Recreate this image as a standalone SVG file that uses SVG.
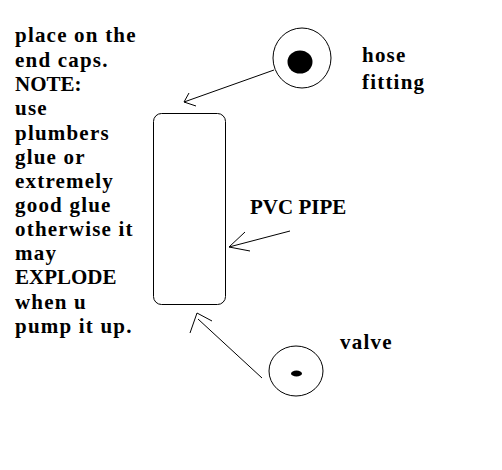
<svg xmlns="http://www.w3.org/2000/svg" width="502" height="470" viewBox="0 0 502 470">
<style>
.t{font-family:"Liberation Serif","Times New Roman",serif;font-weight:bold;font-size:21px;fill:#000;letter-spacing:1.2px}
.c{letter-spacing:0}
.l{fill:none;stroke:#000;stroke-width:1}
</style>
<rect width="502" height="470" fill="#fff"/>
<g id="note">
<text class="t" x="15" y="42">place on the</text>
<text class="t" x="15" y="67">end caps.</text>
<text class="t c" x="15" y="91">NOTE:</text>
<text class="t" x="15" y="115">use</text>
<text class="t" x="15" y="140">plumbers</text>
<text class="t" x="15" y="164">glue or</text>
<text class="t" x="15" y="188">extremely</text>
<text class="t" x="15" y="212">good glue</text>
<text class="t" x="15" y="236">otherwise it</text>
<text class="t" x="15" y="260">may</text>
<text class="t c" x="15" y="284">EXPLODE</text>
<text class="t" x="15" y="309">when u</text>
<text class="t" x="15" y="333">pump it up.</text>
</g>
<g id="pipe">
<rect class="l" x="153.5" y="113.5" width="72" height="191" rx="8"/>
<text class="t c" x="250" y="214">PVC PIPE</text>
</g>
<g id="hose">
<ellipse class="l" cx="302" cy="58" rx="29" ry="30"/>
<ellipse cx="300" cy="62" rx="12.5" ry="11.5" fill="#000"/>
<text class="t" x="362" y="62">hose</text>
<text class="t" x="362" y="89">fitting</text>
</g>
<g id="valve">
<ellipse class="l" cx="296" cy="371" rx="27" ry="25"/>
<ellipse cx="296.5" cy="373.5" rx="5.5" ry="3" fill="#000"/>
<text class="t" x="340" y="349">valve</text>
</g>
<g id="connectors">
<path class="l" d="M274,70 L184,102 M184,102 L189,93 M184,102 L196,106"/>
<path class="l" d="M290,231 L229,247 M229,247 L245,232 M229,247 L250,251"/>
<path class="l" d="M262,378 L198,319 M197,313 L190,333 M197,313 L212,321"/>
</g>
</svg>
